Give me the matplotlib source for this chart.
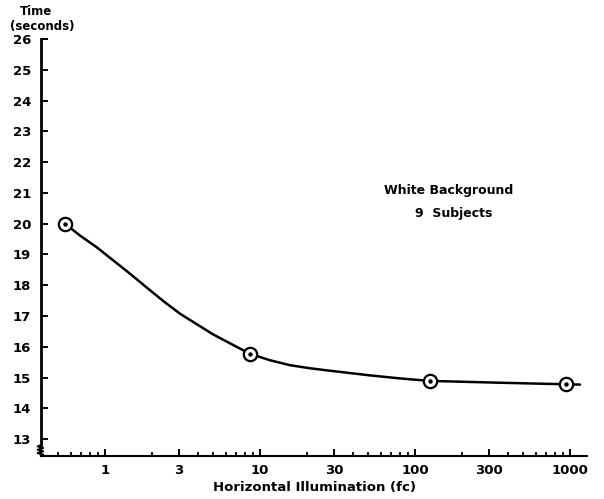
import matplotlib
matplotlib.use("Agg")
import matplotlib.pyplot as plt

# Measured points (illumination in fc, time in seconds)
illum = [0.55, 8.6, 124, 940]
times = [20.0, 15.77, 14.89, 14.78]

# Smooth curve
curve_x = [0.55, 0.69, 0.884, 1.126, 1.45, 1.87, 2.38, 3.05, 3.91, 4.98, 6.4, 8.6,
           11.6, 15.6, 21, 28.3, 51, 80, 124, 353, 940, 1160]
curve_y = [20.0, 19.61, 19.23, 18.81, 18.37, 17.91, 17.48, 17.07, 16.73, 16.40, 16.11,
           15.77, 15.56, 15.40, 15.30, 15.22, 15.07, 14.97, 14.89, 14.83, 14.78, 14.77]

x_ticks = [1, 3, 10, 30, 100, 300, 1000]
x_labels = ['1', '3', '10', '30', '100', '300', '1000']
y_ticks = list(range(13, 27))

plt.rcParams['font.family'] = ['DejaVu Sans']
plt.rcParams['font.weight'] = 'bold'

fig = plt.figure(figsize=(6.04, 4.99), dpi=100)
ax = fig.add_axes([0.0679, 0.0862, 0.9045, 0.8357])

ax.plot(curve_x, curve_y, color='black', lw=1.8, solid_joinstyle='round',
        solid_capstyle='round', zorder=2)
ax.plot(illum, times, ls='none', marker='o', ms=9.6, mfc='white', mec='black',
        mew=1.6, zorder=3)
ax.plot(illum, times, ls='none', marker='o', ms=2.2, color='black', zorder=4)

ax.set_xscale('log')
ax.set_xlim(0.386, 1292)
ax.set_ylim(12.45, 26)

ax.set_xticks(x_ticks)
ax.set_xticklabels(x_labels)
minor = [m * d for d in (0.1, 1, 10, 100) for m in (2, 4, 5, 6, 7, 8, 9)
         if 0.45 < m * d < 1000]
ax.set_xticks(minor, minor=True)
ax.set_yticks(y_ticks)

for s in ('top', 'right'):
    ax.spines[s].set_visible(False)
ax.spines['left'].set_linewidth(2.0)
ax.spines['bottom'].set_linewidth(1.5)
ax.spines['left'].set_bounds(12.8, 26)

ax.tick_params(axis='y', direction='in', length=5, width=1.4, pad=7, labelsize=9.5)
ax.tick_params(axis='x', which='major', direction='in', length=5, width=1.4,
               pad=6, labelsize=9.5)
ax.tick_params(axis='x', which='minor', direction='in', length=3, width=1.3)

# axis break squiggle at the bottom of the y axis
zx = [0.0, -0.006, 0.004, -0.006, 0.004, -0.006, 0.004, 0.0]
zy = [0.0262, 0.023, 0.019, 0.015, 0.011, 0.007, 0.003, 0.0]
ax.plot(zx, zy, transform=ax.transAxes, color='black', lw=1.5, clip_on=False)

ax.set_xlabel('Horizontal Illumination (fc)', fontsize=9.5, fontweight='bold',
              labelpad=3)

fig.text(36.5 / 604, 1 - 11.5 / 499, 'Time', ha='center', va='center',
         fontsize=8.5, fontweight='bold')
fig.text(42.5 / 604, 1 - 26.5 / 499, '(seconds)', ha='center', va='center',
         fontsize=8.5, fontweight='bold')

fig.text(384 / 604, 1 - 190.7 / 499, 'White Background', fontsize=9,
         fontweight='bold', ha='left', va='center')
fig.text(415 / 604, 1 - 213.3 / 499, '9  Subjects', fontsize=9, fontweight='bold',
         ha='left', va='center')

fig.savefig('out.png', dpi=100)
